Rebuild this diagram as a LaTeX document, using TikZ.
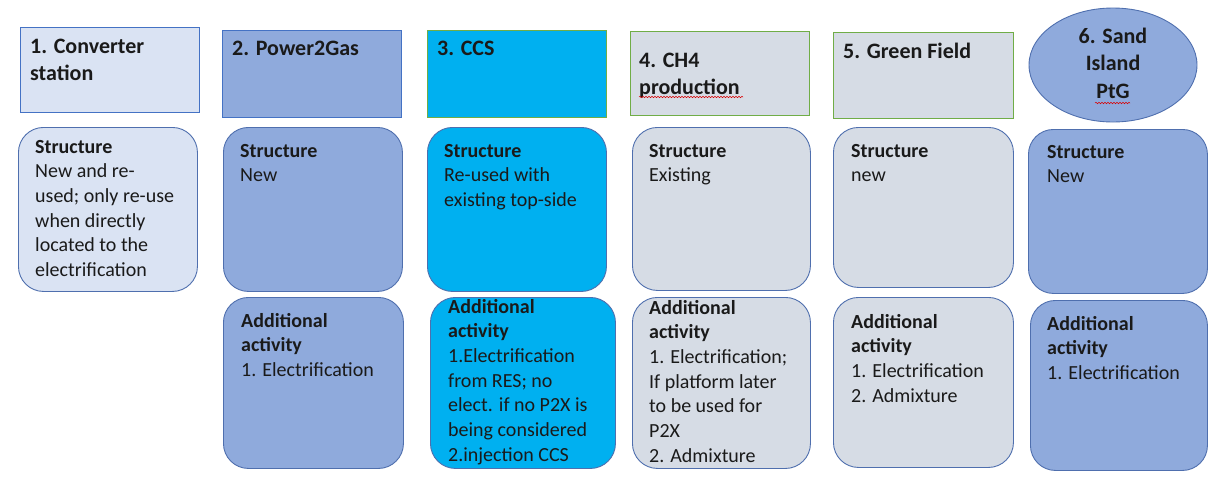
\documentclass[tikz,border=0pt]{standalone}
\usepackage{fontspec}
\setmainfont{Carlito}
\usetikzlibrary{shapes.geometric,decorations.pathmorphing}

\definecolor{paleblue}{HTML}{DAE3F3}
\definecolor{midblue}{HTML}{8FAADC}
\definecolor{cyanfill}{HTML}{00B0F0}
\definecolor{greyblue}{HTML}{D6DCE5}
\definecolor{edgeblue}{HTML}{4472C4}
\definecolor{edgegreen}{HTML}{70AD47}
\definecolor{roundedge}{HTML}{4F6FAE}
\definecolor{inkgrey}{HTML}{1A1A1A}

\newcommand\hdfont{\fontsize{22}{27.5}\selectfont\bfseries}
\newcommand\bdfont{\fontsize{20}{24.7}\selectfont}

\tikzset{
  headbox/.style={draw, line width=0.9pt, rectangle, inner sep=0pt, anchor=north west},
  cardbox/.style={draw=roundedge, line width=0.9pt, rounded corners=25pt, inner sep=0pt, anchor=north west},
  txt/.style={anchor=base west, inner sep=0pt, text=inkgrey},
  ctxt/.style={anchor=base, inner sep=0pt, text=inkgrey},
  squiggle/.style={red!85!black, line width=0.5pt, decorate,
    decoration={snake, amplitude=0.7pt, segment length=3pt}}
}

\begin{document}
\begin{tikzpicture}[x=1pt,y=-1pt]
\useasboundingbox (0,0) rectangle (1210,480);

% ---- header boxes ----
\node[headbox, draw=edgeblue, fill=paleblue, minimum width=179pt, minimum height=85pt] (h1) at (20,27) {};
\node[headbox, draw=edgeblue, fill=midblue, minimum width=179pt, minimum height=87pt] (h2) at (222,30) {};
\node[headbox, draw=edgegreen, fill=cyanfill, minimum width=179pt, minimum height=87pt] (h3) at (427,30) {};
\node[headbox, draw=edgegreen, fill=greyblue, minimum width=179pt, minimum height=84pt] (h4) at (630,31) {};
\node[headbox, draw=edgegreen, fill=greyblue, minimum width=180pt, minimum height=86pt] (h5) at (833,32) {};
\node[draw=roundedge, line width=0.9pt, fill=midblue, ellipse, minimum width=168pt, minimum height=114pt, inner sep=0pt] (h6) at (1113,65) {};

\node[txt] (h1t) at (30,53) {\parbox[t]{165pt}{\raggedright\hdfont 1. Converter\\station}};
\node[txt] (h2t) at (232,55) {\parbox[t]{165pt}{\raggedright\hdfont 2. Power2Gas}};
\node[txt] (h3t) at (437,55) {\parbox[t]{165pt}{\raggedright\hdfont 3. CCS}};
\node[txt] (h4t) at (639,67) {\parbox[t]{165pt}{\raggedright\hdfont 4. CH4\\production}};
\node[txt] (h5t) at (843,58) {\parbox[t]{165pt}{\raggedright\hdfont 5. Green Field}};
\node[ctxt] (h6t) at (1113,43) {\parbox[t]{120pt}{\centering\hdfont 6. Sand\\Island\\PtG}};

% spell-check marks under two words
\draw[squiggle] (639,97) -- (743,97);
\draw[squiggle] (1095,103) -- (1130,103);

% ---- structure cards ----
\node[cardbox, fill=paleblue, minimum width=179pt, minimum height=164pt] (s1) at (18,127) {};
\node[cardbox, fill=midblue, minimum width=179pt, minimum height=164pt] (s2) at (223,127) {};
\node[cardbox, fill=cyanfill, minimum width=179pt, minimum height=164pt] (s3) at (427,127) {};
\node[cardbox, fill=greyblue, minimum width=178pt, minimum height=163pt] (s4) at (632,127) {};
\node[cardbox, fill=greyblue, minimum width=180pt, minimum height=160pt] (s5) at (833,127) {};
\node[cardbox, fill=midblue, minimum width=179pt, minimum height=164pt] (s6) at (1028,129) {};

\node[txt] (s1t) at (35,153) {\parbox[t]{165pt}{\raggedright\bdfont\textbf{Structure}\\New and re-\\used; only re-use\\when directly\\located to the\\electrification}};
\node[txt] (s2t) at (240,157) {\parbox[t]{160pt}{\raggedright\bdfont\textbf{Structure}\\New}};
\node[txt] (s3t) at (444,157) {\parbox[t]{160pt}{\raggedright\bdfont\textbf{Structure}\\Re-used with\\existing top-side}};
\node[txt] (s4t) at (649,157) {\parbox[t]{160pt}{\raggedright\bdfont\textbf{Structure}\\Existing}};
\node[txt] (s5t) at (851,157) {\parbox[t]{160pt}{\raggedright\bdfont\textbf{Structure}\\new}};
\node[txt] (s6t) at (1047,158) {\parbox[t]{160pt}{\raggedright\bdfont\textbf{Structure}\\New}};

% ---- additional activity cards ----
\node[cardbox, fill=midblue, minimum width=180pt, minimum height=171pt] (a2) at (223,297) {};
\node[cardbox, fill=cyanfill, minimum width=185pt, minimum height=171pt] (a3) at (430,297) {};
\node[cardbox, fill=greyblue, minimum width=178pt, minimum height=171pt] (a4) at (632,297) {};
\node[cardbox, fill=greyblue, minimum width=180pt, minimum height=170pt] (a5) at (833,297) {};
\node[cardbox, fill=midblue, minimum width=177pt, minimum height=170pt] (a6) at (1030,300) {};

\node[txt] (a2t) at (241,327) {\parbox[t]{160pt}{\raggedright\bdfont\textbf{Additional}\\\textbf{activity}\\1. Electrification}};
\node[txt] (a3t) at (448,313) {\parbox[t]{165pt}{\raggedright\bdfont\textbf{Additional}\\\textbf{activity}\\1.Electrification\\from RES; no\\elect. if no P2X is\\being considered\\2.injection CCS}};
\node[txt] (a4t) at (649,314) {\parbox[t]{160pt}{\raggedright\bdfont\textbf{Additional}\\\textbf{activity}\\1. Electrification;\\If platform later\\to be used for\\P2X\\2. Admixture}};
\node[txt] (a5t) at (851,328) {\parbox[t]{160pt}{\raggedright\bdfont\textbf{Additional}\\\textbf{activity}\\1. Electrification\\2. Admixture}};
\node[txt] (a6t) at (1047,330) {\parbox[t]{160pt}{\raggedright\bdfont\textbf{Additional}\\\textbf{activity}\\1. Electrification}};
\end{tikzpicture}
\end{document}
